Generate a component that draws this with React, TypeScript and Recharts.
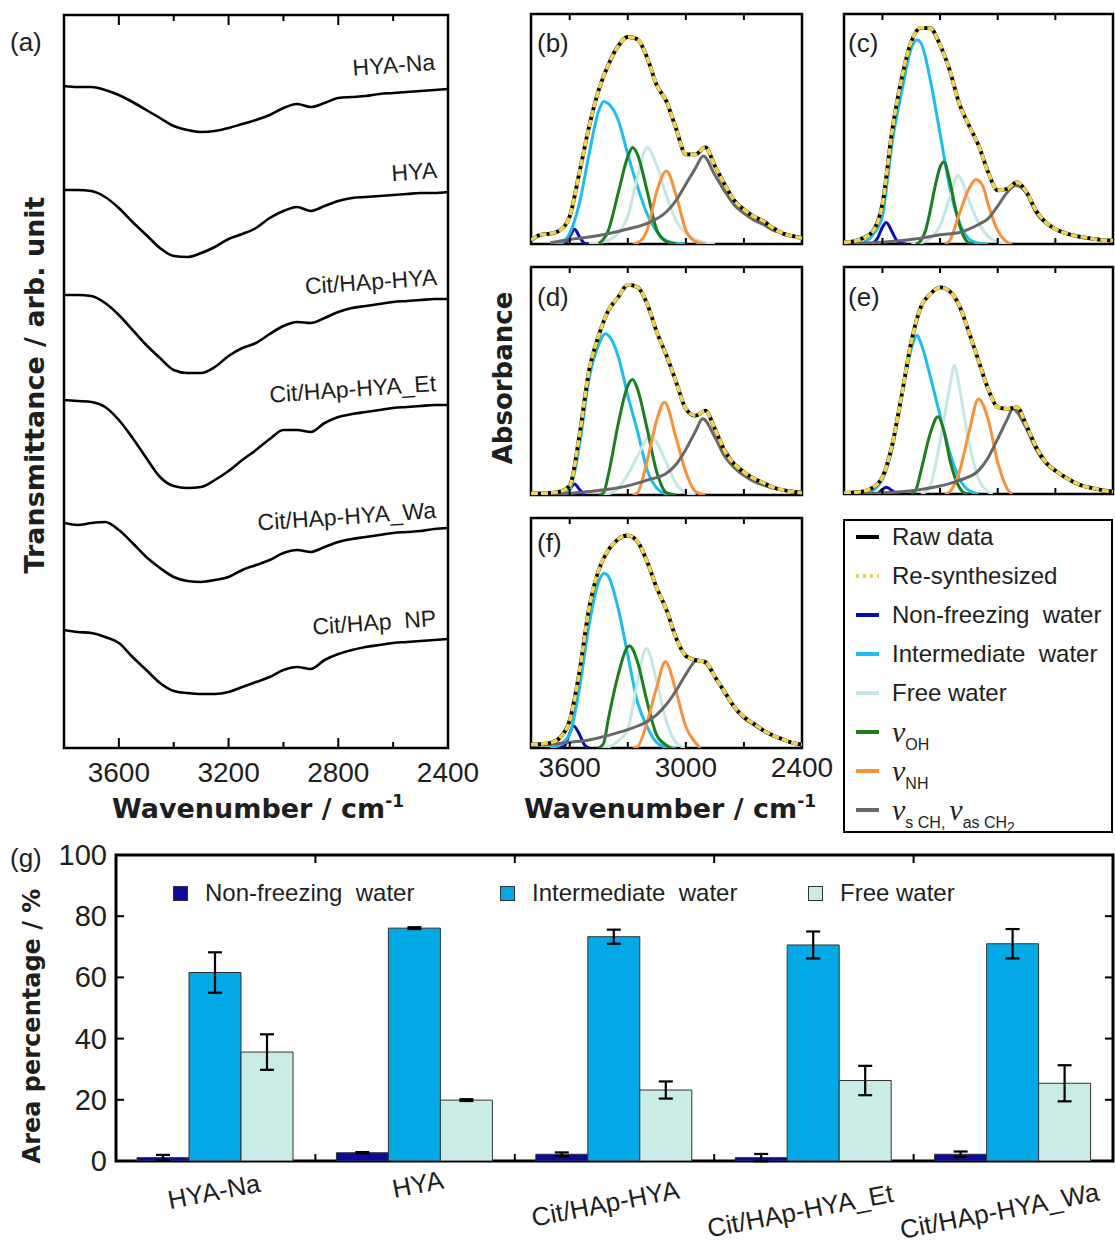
import React from "react";
import {
  LineChart,
  Line,
  XAxis,
  YAxis,
  ReferenceArea,
  Legend,
  BarChart,
  Bar,
  ErrorBar,
} from "recharts";

const SANS = "'Liberation Sans', Arial, sans-serif";
const BOLD = "'DejaVu Sans', Verdana, sans-serif";
const SERIF = "'Liberation Serif', 'Times New Roman', serif";
const INK = "#1e1e1e";

// wavenumber grid (cm-1) the spectra were read on
const wn = [
  3800, 3750, 3700, 3650, 3600, 3550, 3500, 3450, 3400, 3350, 3300, 3250, 3200, 3150, 3100,
  3050, 3000, 2950, 2900, 2850, 2800, 2750, 2700, 2650, 2600, 2550, 2500, 2450, 2400,
];

// (a) transmittance, arb. unit, stacked
const sampleNames = ["HYA-Na", "HYA", "Cit/HAp-HYA", "Cit/HAp-HYA_Et", "Cit/HAp-HYA_Wa", "Cit/HAp  NP"];
const tHyaNa = [662, 661, 661, 658, 653, 646, 638, 630, 622, 618, 616, 617, 620, 624, 628, 633, 640, 644, 641, 645, 650, 651, 652, 654, 655, 656, 657, 658, 659];
const tHya = [558, 558, 557, 551, 540, 526, 513, 500, 492, 491, 495, 501, 509, 514, 520, 530, 537, 541, 537, 542, 547, 550, 551, 552, 553, 554, 555, 555, 556];
const tCitHya = [453, 453, 452, 445, 433, 418, 403, 390, 378, 375, 375, 381, 392, 400, 405, 414, 422, 426, 425, 430, 436, 440, 442, 444, 446, 447, 448, 449, 449];
const tCitHyaEt = [348, 347, 346, 341, 328, 310, 290, 271, 262, 260, 261, 268, 277, 288, 298, 309, 318, 318, 316, 325, 331, 334, 336, 338, 340, 341, 342, 343, 343];
const tCitHyaWa = [225, 223, 225, 226, 218, 205, 191, 180, 171, 167, 166, 168, 171, 178, 183, 188, 195, 198, 196, 201, 206, 209, 211, 213, 215, 216, 217, 219, 220];
const tCitNp = [118, 116, 115, 111, 105, 91, 78, 65, 57, 55, 54, 54, 56, 61, 66, 71, 78, 81, 79, 88, 94, 98, 101, 103, 105, 106, 107, 108, 109];
const transSeries = [tHyaNa, tHya, tCitHya, tCitHyaEt, tCitHyaWa, tCitNp];

// (b)-(f) absorbance (normalised, 0-100); raw on wn grid, fitted bands as [wn, value]
type Pt = [number, number];

const rawB = [1.7, 4, 4.5, 6, 12, 31, 51, 67, 78, 86, 90, 89, 81, 69, 62, 50, 39, 39, 42, 34, 26, 19, 15, 12, 10, 7, 4.6, 3.5, 2.5];
const nfB: Pt[] = [[3650, 0], [3625, 0.4], [3600, 3.2], [3575, 6.4], [3550, 3.2], [3525, 0.4], [3500, 0]];
const imB: Pt[] = [[3700, 0], [3650, 0.3], [3600, 4.6], [3550, 17.7], [3500, 39], [3450, 58], [3425, 62], [3400, 61], [3350, 54], [3300, 39], [3250, 25], [3200, 13], [3150, 5.4], [3100, 1.4], [3050, 0.3], [3000, 0]];
const fwB: Pt[] = [[3500, 0], [3450, 0.6], [3400, 1.7], [3350, 4.6], [3300, 12], [3250, 29], [3200, 42], [3150, 34], [3100, 21], [3050, 10], [3000, 4.6], [2950, 2], [2900, 0.6], [2850, 0]];
const ohB: Pt[] = [[3450, 0], [3400, 6], [3350, 22], [3300, 38], [3275, 42], [3250, 39], [3200, 23], [3150, 6], [3100, 1], [3050, 0]];
const nhB: Pt[] = [[3275, 0], [3250, 0.5], [3200, 6], [3150, 23], [3100, 31.7], [3050, 21], [3000, 6], [2950, 1], [2900, 0]];
const chB: Pt[] = [[3700, 0.5], [3600, 2], [3500, 3], [3400, 4.5], [3300, 6.5], [3200, 9], [3100, 14], [3050, 19], [3000, 26], [2950, 33], [2910, 38.3], [2850, 30], [2800, 23], [2750, 17], [2700, 13.3], [2650, 10.5], [2600, 8.5], [2550, 6], [2500, 4.6], [2450, 3.5], [2400, 2.5]];

const rawC = [0.7, 1.2, 2.6, 5.5, 17.4, 49, 72, 88, 94, 93.8, 86.5, 75.6, 61, 51.6, 43, 31.3, 23.3, 24, 26.9, 22.5, 14.5, 9.4, 6.5, 4.8, 3.6, 2.9, 2.2, 1.7, 1.5];
const nfC: Pt[] = [[3675, 0], [3650, 0.4], [3625, 2.6], [3600, 7.3], [3580, 9.4], [3550, 5.3], [3525, 1.4], [3500, 0.2], [3475, 0]];
const imC: Pt[] = [[3750, 0], [3700, 0.7], [3650, 4], [3600, 12], [3575, 27], [3550, 43.6], [3500, 66], [3450, 85], [3420, 88.7], [3400, 87.5], [3350, 71], [3300, 48], [3250, 24.7], [3200, 9.4], [3150, 2.2], [3100, 0.3], [3050, 0]];
const fwC: Pt[] = [[3450, 0], [3400, 0.5], [3350, 2.5], [3300, 8], [3250, 20], [3207, 29.8], [3150, 19], [3100, 9], [3050, 3.3], [3000, 0.8], [2950, 0]];
const ohC: Pt[] = [[3425, 0], [3400, 1.5], [3375, 6], [3350, 15], [3325, 25.4], [3300, 33.4], [3280, 35.6], [3250, 27.6], [3225, 17.4], [3200, 8.7], [3175, 2.9], [3150, 0.5], [3125, 0]];
const nhC: Pt[] = [[3275, 0], [3250, 1.5], [3200, 13], [3150, 24], [3112, 28], [3075, 24.7], [3050, 17.4], [3000, 5.8], [2950, 0.8], [2925, 0]];
const chC: Pt[] = [[3750, 0], [3700, 0.3], [3600, 0.8], [3500, 1.5], [3400, 2.5], [3300, 4], [3200, 5], [3150, 6.5], [3100, 8.5], [3050, 11], [3000, 16.5], [2950, 22.5], [2908, 25.4], [2850, 22], [2800, 13.5], [2750, 9], [2700, 6.5], [2650, 4.8], [2600, 3.5], [2500, 2.2], [2400, 1.5]];

const rawD = [0.6, 0.7, 0.9, 1.5, 4.1, 26, 54.6, 70, 81, 86.8, 92.2, 91.2, 83.9, 71.4, 61.2, 49.5, 37.8, 34.8, 37, 29, 19.5, 13.6, 10, 7.3, 5.3, 3.4, 2.2, 1.5, 0.9];
const nfD: Pt[] = [[3625, 0], [3600, 2.5], [3575, 4.8], [3550, 2.5], [3525, 0]];
const imD: Pt[] = [[3700, 0], [3650, 0.5], [3600, 2.5], [3550, 21.7], [3500, 51], [3450, 66], [3416, 70.7], [3400, 70], [3350, 61], [3300, 43.6], [3250, 28], [3200, 11], [3150, 3], [3100, 0.5], [3050, 0]];
const fwD: Pt[] = [[3450, 0], [3400, 0.5], [3350, 3], [3300, 9], [3250, 17], [3183, 26], [3150, 23], [3100, 14], [3050, 5], [3000, 1], [2950, 0]];
const ohD: Pt[] = [[3450, 0], [3425, 1], [3400, 9], [3350, 31], [3300, 48], [3275, 50.7], [3250, 46.5], [3200, 29], [3150, 10], [3100, 1], [3050, 0]];
const nhD: Pt[] = [[3275, 0], [3250, 1], [3200, 15], [3150, 33], [3111, 40.7], [3050, 25], [3000, 10], [2950, 1.5], [2900, 0]];
const chD: Pt[] = [[3700, 0], [3650, 0.3], [3500, 1.5], [3400, 2.5], [3300, 4], [3200, 6.5], [3100, 9.5], [3050, 13.5], [3000, 20], [2950, 28], [2913, 33.4], [2850, 25.3], [2800, 17], [2750, 12], [2700, 8.5], [2650, 6], [2600, 4.3], [2550, 3], [2500, 2.2], [2400, 1.2]];

const rawE = [0.4, 0.7, 1.2, 2.9, 7.4, 21.3, 43.4, 67, 82.4, 88.2, 91, 89.3, 83, 71.3, 58.8, 46.3, 38.2, 37.5, 38.2, 30, 20.6, 14, 10.3, 7.4, 5.1, 3.4, 2.5, 1.5, 1];
const nfE: Pt[] = [[3625, 0], [3600, 2], [3580, 3], [3550, 1.5], [3525, 0]];
const imE: Pt[] = [[3700, 0], [3650, 1.5], [3600, 6.5], [3550, 19.9], [3500, 43.4], [3450, 64], [3420, 69.9], [3400, 66.5], [3350, 51.5], [3300, 34.6], [3250, 18.4], [3200, 6.9], [3150, 1.5], [3100, 0]];
const fwE: Pt[] = [[3400, 0], [3375, 1], [3350, 4], [3300, 23], [3250, 47], [3225, 56.6], [3200, 47], [3150, 23], [3100, 6.6], [3050, 1], [3025, 0]];
const ohE: Pt[] = [[3450, 0], [3425, 2], [3400, 10], [3350, 27], [3311, 34], [3275, 26], [3250, 15.4], [3200, 3], [3175, 0.5], [3150, 0]];
const nhE: Pt[] = [[3275, 0], [3250, 1], [3200, 9.6], [3150, 27], [3100, 41.9], [3050, 33], [3000, 14], [2950, 2.2], [2925, 0]];
const chE: Pt[] = [[3700, 0], [3650, 0.3], [3500, 1], [3400, 2], [3300, 3.5], [3200, 6], [3100, 10.3], [3050, 16], [3000, 24.3], [2950, 33], [2922, 37.5], [2850, 28.7], [2800, 19.5], [2750, 13.5], [2700, 10], [2650, 7.3], [2600, 5], [2550, 3.4], [2500, 2.4], [2450, 1.8], [2400, 1.2]];

const rawF = [1.5, 1.7, 2.3, 4.4, 12, 33, 60.8, 77.5, 86.2, 90.8, 92.4, 89.8, 81, 69.5, 60, 47.7, 40, 38.2, 37.5, 31, 24.4, 17.9, 13.5, 10.6, 7.7, 5.5, 3.8, 2.3, 1.5];
const nfF: Pt[] = [[3650, 0], [3625, 1], [3600, 6.5], [3580, 9.6], [3550, 6], [3525, 1.5], [3500, 0]];
const imF: Pt[] = [[3700, 0], [3650, 1.5], [3600, 6], [3550, 25.9], [3500, 53.5], [3450, 72.4], [3421, 76], [3400, 74.6], [3350, 60.8], [3300, 40.4], [3250, 20], [3200, 9.2], [3150, 2.3], [3100, 0.3], [3050, 0]];
const fwF: Pt[] = [[3450, 0], [3400, 0.5], [3350, 3], [3300, 8], [3250, 28.8], [3204, 43.3], [3150, 28.8], [3100, 11.3], [3050, 2.3], [3000, 0]];
const ohF: Pt[] = [[3450, 0], [3425, 2], [3400, 12.8], [3350, 31.7], [3300, 44], [3290, 44.3], [3250, 37.5], [3200, 20], [3150, 5.5], [3100, 1.2], [3075, 0]];
const nhF: Pt[] = [[3275, 0], [3250, 0.5], [3200, 11.3], [3150, 26.6], [3106, 37.5], [3050, 24.4], [3000, 9.2], [2950, 2.3], [2925, 0]];
const chF: Pt[] = [[3800, 1], [3700, 1.5], [3600, 2.5], [3500, 3.5], [3400, 5.5], [3300, 8], [3200, 11.5], [3150, 14.5], [3100, 19], [3050, 25], [3000, 32], [2942, 38.2], [2900, 37], [2850, 31], [2800, 24], [2750, 17.5], [2700, 13], [2650, 10.2], [2600, 7.5], [2550, 5.3], [2500, 3.6], [2450, 2.2], [2400, 1.5]];

const partNames = ["Non-freezing  water", "Intermediate  water", "Free water", "νOH", "νNH", "νs CH, νas CH2"];
const partColors = ["#0c0cb4", "#1dbdf0", "#c4e8e5", "#1e7e1e", "#f7913b", "#686868"];
const rawColor = "#000000";
const fitColor = "#f1d449";

// (g) area percentage
const categories = ["HYA-Na", "HYA", "Cit/HAp-HYA", "Cit/HAp-HYA_Et", "Cit/HAp-HYA_Wa"];
const nonFreezing = [1.1, 2.7, 2.2, 1.1, 2.2];
const nonFreezingErr = [0.9, 0.2, 0.6, 1.2, 0.9];
const intermediate = [61.6, 76.1, 73.3, 70.6, 71.0];
const intermediateErr = [6.6, 0.3, 2.3, 4.4, 4.8];
const freeWater = [35.6, 19.9, 23.2, 26.3, 25.4];
const freeWaterErr = [5.8, 0.3, 2.8, 4.8, 5.9];
const barNames = ["Non-freezing  water", "Intermediate  water", "Free water"];
const barColors = ["#0b0b9e", "#02a9e4", "#c9ece7"];

const transData = wn.map((w, i) => {
  const row: Record<string, number> = { w };
  transSeries.forEach((s, k) => (row["s" + k] = s[i]));
  return row;
});

const toRows = (pts: Pt[]) => pts.map(([w, v]) => ({ w, v }));
const rawRows = (raw: number[]) => wn.map((w, i) => ({ w, v: raw[i] }));

const gData = categories.map((name, i) => ({
  name,
  slot: i + 0.5,
  nf: nonFreezing[i],
  nfErr: nonFreezingErr[i],
  im: intermediate[i],
  imErr: intermediateErr[i],
  fw: freeWater[i],
  fwErr: freeWaterErr[i],
}));

// ---- ticks ----
const aTicks = [3600, 3400, 3200, 3000, 2800, 2600, 2400];
const aMajor = [3600, 3200, 2800, 2400];
const smallTicks = [3600, 3300, 3000, 2700, 2400];
const smallLabels = [3600, 3000, 2400];

function TransTick(props: any) {
  const { x, y, payload, side } = props;
  const v = payload.value;
  const major = aMajor.includes(v);
  const dir = side === "bottom" ? -1 : 1;
  return (
    <g>
      {v !== 2400 && (
        <line x1={x} x2={x} y1={y} y2={y + dir * (major ? 10 : 6)} stroke="#000" strokeWidth={2} />
      )}
      {side === "bottom" && major && (
        <text x={x} y={y + 34} textAnchor="middle" fontFamily={SANS} fontSize={28} fill={INK}>
          {v}
        </text>
      )}
    </g>
  );
}

function SmallTick(props: any) {
  const { x, y, payload, side, showLabel } = props;
  const v = payload.value;
  const dir = side === "bottom" ? -1 : 1;
  return (
    <g>
      {v !== 2400 && <line x1={x} x2={x} y1={y} y2={y + dir * 6} stroke="#000" strokeWidth={2} />}
      {showLabel && smallLabels.includes(v) && (
        <text x={x} y={y + 29} textAnchor="middle" fontFamily={SANS} fontSize={28} fill={INK}>
          {v}
        </text>
      )}
    </g>
  );
}

function PctTick(props: any) {
  const { x, y, payload, side } = props;
  const dir = side === "left" ? 1 : -1;
  const v = payload.value;
  return (
    <g>
      {v !== 0 && v !== 100 && (
        <line x1={x} x2={x + dir * 8} y1={y} y2={y} stroke="#000" strokeWidth={2} />
      )}
      {side === "left" && (
        <text x={x - 9} y={y + 10} textAnchor="end" fontFamily={SANS} fontSize={29} fill={INK}>
          {v}
        </text>
      )}
    </g>
  );
}

function GroupTick(props: any) {
  const { x, y, side } = props;
  const dir = side === "bottom" ? -1 : 1;
  return <line x1={x} x2={x} y1={y} y2={y + dir * 8} stroke="#000" strokeWidth={2} />;
}

function CatTick(props: any) {
  const { x, y, payload } = props;
  const s = String(payload.value);
  const cx = x - 1.5 * (s.length - 6);
  const cy = y + 25 + 2.4 * s.length;
  return (
    <text
      x={cx}
      y={cy}
      textAnchor="middle"
      transform={`rotate(-11 ${cx} ${cy})`}
      fontFamily={SANS}
      fontSize={26}
      fill={INK}
    >
      {s}
    </text>
  );
}

// ---- legends ----
function renderName(name: string) {
  if (!name.includes("ν")) return name;
  return name
    .split("ν")
    .filter((p) => p.length > 0)
    .map((part, k) => {
      const m = part.trimEnd().match(/^(.*?)(\d)?$/) as RegExpMatchArray;
      return (
        <span key={k} style={{ marginRight: 4 }}>
          <span style={{ fontFamily: SERIF, fontStyle: "italic", fontSize: 30 }}>ν</span>
          <span style={{ fontSize: 16, position: "relative", top: 8 }}>
            {m[1]}
            {m[2] && <span style={{ fontSize: 14, position: "relative", top: 4 }}>{m[2]}</span>}
          </span>
        </span>
      );
    });
}

function DeconvLegend() {
  const entries = [
    { name: "Raw data", color: rawColor, dash: undefined as string | undefined },
    { name: "Re-synthesized", color: fitColor, dash: "3 4" },
    ...partNames.map((n, i) => ({ name: n, color: partColors[i], dash: undefined as string | undefined })),
  ];
  return (
    <div
      style={{
        position: "relative",
        width: 270,
        height: 314,
        border: "2.5px solid #000",
        boxSizing: "border-box",
        background: "#fff",
        fontFamily: SANS,
        fontSize: 24,
        color: INK,
      }}
    >
      {entries.map((e, i) => (
        <div
          key={e.name}
          style={{
            position: "absolute",
            left: 0,
            top: 0.5 + i * 39,
            height: 30,
            display: "flex",
            alignItems: "center",
            whiteSpace: "pre",
          }}
        >
          <svg width={47} height={30} style={{ flex: "none" }}>
            <line x1={11} x2={34} y1={15} y2={15} stroke={e.color} strokeWidth={4} strokeDasharray={e.dash} />
          </svg>
          <span>{renderName(e.name)}</span>
        </div>
      ))}
    </div>
  );
}

function PctLegend() {
  const xs = [173, 500, 808];
  return (
    <div style={{ position: "relative", width: 1115, height: 30, fontFamily: SANS, fontSize: 24, color: INK }}>
      {barNames.map((n, i) => (
        <div
          key={n}
          style={{
            position: "absolute",
            left: xs[i],
            top: 0,
            height: 30,
            display: "flex",
            alignItems: "center",
            whiteSpace: "pre",
          }}
        >
          <span
            style={{
              display: "inline-block",
              width: 13,
              height: 13,
              background: barColors[i],
              border: "1px solid #333",
              marginRight: 17,
            }}
          />
          {n}
        </div>
      ))}
    </div>
  );
}

// ---- panels ----
// axes are 1px tall/wide (a 0 size axis is not drawn), margins are reduced by that 1px
function DeconvPanel(props: {
  raw: number[];
  parts: Pt[][];
  left: number;
  top: number;
  width: number;
  height: number;
  margin: { top: number; right: number; bottom: number; left: number };
  labels?: boolean;
  legend?: boolean;
}) {
  const { raw, parts, left, top, width, height, margin, labels, legend } = props;
  const axisCommon = {
    type: "number" as const,
    dataKey: "w",
    domain: [2400, 3800],
    reversed: true,
    allowDataOverflow: true,
    ticks: smallTicks,
    interval: 0,
    height: 1,
    tickSize: 0,
    tickMargin: 0,
    tickLine: false,
    axisLine: false,
  };
  return (
    <div style={{ position: "absolute", left, top }}>
      <LineChart width={width} height={height} margin={margin}>
        <XAxis xAxisId="b" {...axisCommon} tick={(p: any) => <SmallTick {...p} side="bottom" showLabel={!!labels} />} />
        <XAxis xAxisId="t" orientation="top" {...axisCommon} tick={(p: any) => <SmallTick {...p} side="top" showLabel={false} />} />
        <YAxis type="number" domain={[0, 100]} allowDataOverflow hide />
        <ReferenceArea xAxisId="b" x1={2400} x2={3800} y1={0} y2={100} fill="none" stroke="#000" strokeWidth={2.5} />
        {parts.map((pts, i) => (
          <Line
            key={partNames[i]}
            name={partNames[i]}
            xAxisId="b"
            data={toRows(pts)}
            dataKey="v"
            type="monotone"
            stroke={partColors[i]}
            strokeWidth={3}
            dot={false}
            activeDot={false}
            isAnimationActive={false}
          />
        ))}
        <Line
          name="Raw data"
          xAxisId="b"
          data={rawRows(raw)}
          dataKey="v"
          type="monotone"
          stroke={rawColor}
          strokeWidth={3.8}
          dot={false}
          activeDot={false}
          isAnimationActive={false}
        />
        <Line
          name="Re-synthesized"
          xAxisId="b"
          data={rawRows(raw)}
          dataKey="v"
          type="monotone"
          stroke={fitColor}
          strokeWidth={3.6}
          strokeDasharray="7 3"
          dot={false}
          activeDot={false}
          isAnimationActive={false}
        />
        {legend && (
          <Legend
            layout="vertical"
            align="center"
            verticalAlign="middle"
            wrapperStyle={{ left: 353, top: 11, width: 270, height: 314 }}
            content={() => <DeconvLegend />}
          />
        )}
      </LineChart>
    </div>
  );
}

function TransmittancePanel() {
  const axisCommon = {
    type: "number" as const,
    dataKey: "w",
    domain: [2400, 3800],
    reversed: true,
    allowDataOverflow: true,
    ticks: aTicks,
    interval: 0,
    height: 1,
    tickSize: 0,
    tickMargin: 0,
    tickLine: false,
    axisLine: false,
  };
  return (
    <div style={{ position: "absolute", left: 0, top: 0 }}>
      <LineChart width={500} height={790} data={transData} margin={{ top: 14, right: 52, bottom: 41, left: 64 }}>
        <XAxis xAxisId="b" {...axisCommon} tick={(p: any) => <TransTick {...p} side="bottom" />} />
        <XAxis xAxisId="t" orientation="top" {...axisCommon} tick={(p: any) => <TransTick {...p} side="top" />} />
        <YAxis type="number" domain={[0, 733]} allowDataOverflow hide />
        <ReferenceArea xAxisId="b" x1={2400} x2={3800} y1={0} y2={733} fill="none" stroke="#000" strokeWidth={2.5} />
        {transSeries.map((_, k) => (
          <Line
            key={sampleNames[k]}
            name={sampleNames[k]}
            xAxisId="b"
            dataKey={"s" + k}
            type="monotone"
            stroke="#000"
            strokeWidth={2.6}
            dot={false}
            activeDot={false}
            isAnimationActive={false}
          />
        ))}
      </LineChart>
    </div>
  );
}

function AreaPanel() {
  const numAxis = {
    type: "number" as const,
    dataKey: "slot",
    domain: [0, 5],
    allowDataOverflow: true,
    ticks: [1, 2, 3, 4],
    interval: 0,
    height: 1,
    tickSize: 0,
    tickMargin: 0,
    tickLine: false,
    axisLine: false,
  };
  const pctAxis = {
    type: "number" as const,
    domain: [0, 100],
    allowDataOverflow: true,
    ticks: [0, 20, 40, 60, 80, 100],
    interval: 0,
    width: 1,
    tickSize: 0,
    tickMargin: 0,
    tickLine: false,
    axisLine: false,
  };
  const keys = ["nf", "im", "fw"];
  return (
    <div style={{ position: "absolute", left: 0, top: 826 }}>
      <BarChart
        width={1115}
        height={421}
        data={gData}
        margin={{ top: 28, right: 1, bottom: 84, left: 115 }}
        barCategoryGap={21}
        barGap={0}
      >
        <XAxis
          dataKey="name"
          type="category"
          height={1}
          tickSize={0}
          tickMargin={0}
          tickLine={false}
          axisLine={false}
          interval={0}
          tick={(p: any) => <CatTick {...p} />}
        />
        <XAxis xAxisId="n" {...numAxis} tick={(p: any) => <GroupTick {...p} side="bottom" />} />
        <XAxis xAxisId="nt" orientation="top" {...numAxis} tick={(p: any) => <GroupTick {...p} side="top" />} />
        <YAxis {...pctAxis} tick={(p: any) => <PctTick {...p} side="left" />} />
        <YAxis yAxisId="r" orientation="right" {...pctAxis} tick={(p: any) => <PctTick {...p} side="right" />} />
        <ReferenceArea y1={0} y2={100} fill="none" stroke="#000" strokeWidth={3} />
        {keys.map((k, i) => (
          <Bar
            key={k}
            dataKey={k}
            name={barNames[i]}
            fill={barColors[i]}
            stroke="#333"
            strokeWidth={1}
            isAnimationActive={false}
          >
            <ErrorBar dataKey={k + "Err"} width={7} strokeWidth={2.2} stroke="#000" direction="y" />
          </Bar>
        ))}
        <Legend
          layout="vertical"
          align="center"
          verticalAlign="middle"
          wrapperStyle={{ left: 0, top: 52, width: 1115, height: 30 }}
          content={() => <PctLegend />}
        />
      </BarChart>
    </div>
  );
}

function Overlay() {
  const labelPos = [
    [435, 62],
    [437, 170],
    [437, 277],
    [436, 383],
    [436, 510],
    [436, 618],
  ];
  const letters: [string, number, number][] = [
    ["(a)", 10, 51],
    ["(b)", 537, 52],
    ["(c)", 848, 52],
    ["(d)", 537, 306],
    ["(e)", 848, 306],
    ["(f)", 537, 552],
    ["(g)", 10, 867],
  ];
  return (
    <svg
      width={1115}
      height={1247}
      style={{ position: "absolute", left: 0, top: 0, pointerEvents: "none" }}
    >
      <g fontFamily={SANS} fontSize={26} fill={INK}>
        {letters.map(([t, x, y]) => (
          <text key={t} x={x} y={y}>
            {t}
          </text>
        ))}
      </g>
      <g fontFamily={SANS} fontSize={23} fill={INK}>
        {sampleNames.map((n, i) => {
          const [x, y] = labelPos[i];
          return (
            <text
              key={n}
              x={x}
              y={y + 8}
              textAnchor="end"
              transform={`rotate(-4 ${x} ${y})`}
              style={{ whiteSpace: "pre" }}
            >
              {n}
            </text>
          );
        })}
      </g>
      <g fontFamily={BOLD} fontWeight="bold" fill={INK}>
        <text x={34} y={385} fontSize={27} textAnchor="middle" dominantBaseline="central" transform="rotate(-90 34 385)">
          Transmittance / arb. unit
        </text>
        <text x={258} y={818} fontSize={27} textAnchor="middle">
          Wavenumber / cm<tspan fontSize={17} dy={-11}>-1</tspan>
        </text>
        <text x={503} y={378} fontSize={26} textAnchor="middle" dominantBaseline="central" transform="rotate(-90 503 378)">
          Absorbance
        </text>
        <text x={670} y={818} fontSize={27} textAnchor="middle">
          Wavenumber / cm<tspan fontSize={17} dy={-11}>-1</tspan>
        </text>
        <text x={32} y={1026} fontSize={24} textAnchor="middle" dominantBaseline="central" transform="rotate(-90 32 1026)">
          Area percentage / %
        </text>
      </g>
    </svg>
  );
}

export default function App() {
  const m = (l: number, r: number, b: number) => ({ top: 9, left: l, right: r, bottom: b });
  return (
    <div style={{ position: "absolute", left: 0, top: 0, width: 1115, height: 1247, background: "#fff" }}>
      <TransmittancePanel />
      <DeconvPanel raw={rawB} parts={[nfB, imB, fwB, ohB, nhB, chB]} left={521} top={4} width={290} height={250} margin={m(10, 9, 9)} />
      <DeconvPanel raw={rawC} parts={[nfC, imC, fwC, ohC, nhC, chC]} left={834} top={4} width={281} height={250} margin={m(10, 2, 9)} />
      <DeconvPanel raw={rawD} parts={[nfD, imD, fwD, ohD, nhD, chD]} left={521} top={257} width={290} height={248} margin={m(10, 9, 9)} />
      <DeconvPanel raw={rawE} parts={[nfE, imE, fwE, ohE, nhE, chE]} left={834} top={257} width={281} height={247} margin={m(10, 2, 9)} />
      <DeconvPanel
        raw={rawF}
        parts={[nfF, imF, fwF, ohF, nhF, chF]}
        left={490}
        top={508}
        width={625}
        height={280}
        margin={m(41, 313, 39)}
        labels
        legend
      />
      <AreaPanel />
      <Overlay />
    </div>
  );
}
